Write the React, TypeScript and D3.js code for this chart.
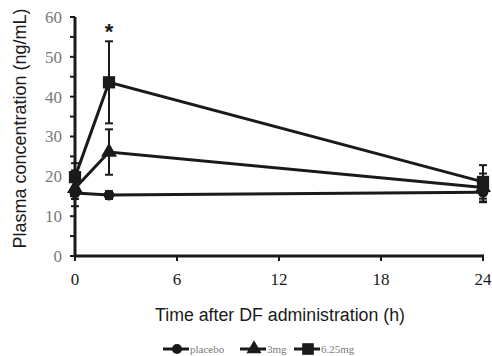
import React from 'react';
import { scaleLinear, line, symbol, symbolCircle, symbolTriangle, symbolSquare } from 'd3';

const times = [0, 2, 24];
const placebo = [15.8, 15.3, 16.0];
const placeboErr = [1.5, 1.0, 2.5];
const mg3 = [17.0, 26.1, 17.2];
const mg3Err = [4.5, 5.7, 3.5];
const mg625 = [19.8, 43.6, 18.6];
const mg625Err = [3.5, 10.3, 4.2];
const seriesNames = ['placebo', '3mg', '6.25mg'];
const xTicks = [0, 6, 12, 18, 24];
const yTicks = [0, 10, 20, 30, 40, 50, 60];
const yMinor = [5, 15, 25, 35, 45, 55];

const width = 492;
const height = 356;
const margin = { left: 75, right: 9, top: 17, bottom: 100 };
const ink = '#1a1a1a';
const grey = '#7a7a7a';

const x = scaleLinear().domain([0, 24]).range([margin.left, width - margin.right]);
const y = scaleLinear().domain([0, 60]).range([height - margin.bottom, margin.top]);

const series = [
  { name: seriesNames[0], values: placebo, err: placeboErr, shape: symbolCircle, size: 90 },
  { name: seriesNames[1], values: mg3, err: mg3Err, shape: symbolTriangle, size: 110 },
  { name: seriesNames[2], values: mg625, err: mg625Err, shape: symbolSquare, size: 150 },
];

const App = () => {
  const path = line<number>().x((d, i) => x(times[i])).y(d => y(d));
  // legend item starts (line start)
  const legendX = [163, 240, 294];

  return (
    <svg width={width} height={height}
      style={{ position: 'absolute', left: 0, top: 0, background: '#fff' }}>
      {/* y axis */}
      <line x1={x(0)} x2={x(0)} y1={y(0) + 1} y2={y(60)} stroke={ink} strokeWidth={3} />
      {yTicks.map(t => (
        <g key={'y' + t}>
          <line x1={x(0) - 5} x2={x(0)} y1={y(t)} y2={y(t)} stroke={ink} strokeWidth={2} />
          <text x={x(0) - 13} y={y(t)} dy="0.35em" textAnchor="end"
            style={{ font: '17px "Liberation Serif", serif', fill: grey }}>{t}</text>
        </g>
      ))}
      {yMinor.map(t => (
        <line key={'m' + t} x1={x(0) - 5} x2={x(0)} y1={y(t)} y2={y(t)} stroke={ink} strokeWidth={2} />
      ))}
      {/* x axis */}
      <line x1={x(0) - 1} x2={x(24) + 1} y1={y(0)} y2={y(0)} stroke={ink} strokeWidth={3} />
      {xTicks.map(t => (
        <g key={'x' + t}>
          <line x1={x(t)} x2={x(t)} y1={y(0)} y2={y(0) + 5} stroke={ink} strokeWidth={2} />
          <text x={x(t)} y={y(0) + 23} dy="0.35em" textAnchor="middle"
            style={{ font: '17px "Liberation Serif", serif', fill: ink }}>{t}</text>
        </g>
      ))}
      <text transform={`translate(20,${(y(0) + y(60)) / 2 - 8}) rotate(-90)`} textAnchor="middle" dy="0.35em"
        textLength={240} lengthAdjust="spacingAndGlyphs"
        style={{ font: '18px "Liberation Sans", Arial, sans-serif', fill: ink }}>Plasma concentration (ng/mL)</text>
      <text x={280} y={315} textAnchor="middle" dy="0.35em"
        textLength={250} lengthAdjust="spacingAndGlyphs"
        style={{ font: '18px "Liberation Sans", Arial, sans-serif', fill: ink }}>Time after DF administration (h)</text>

      {/* series */}
      {series.map(s => (
        <g key={s.name}>
          {s.values.map((v, i) => (
            <g key={i} stroke={ink} strokeWidth={2}>
              <line x1={x(times[i])} x2={x(times[i])} y1={y(v - s.err[i])} y2={y(v + s.err[i])} />
              <line x1={x(times[i]) - 4} x2={x(times[i]) + 4} y1={y(v + s.err[i])} y2={y(v + s.err[i])} />
              <line x1={x(times[i]) - 4} x2={x(times[i]) + 4} y1={y(v - s.err[i])} y2={y(v - s.err[i])} />
            </g>
          ))}
          <path d={path(s.values) || ''} fill="none" stroke={ink} strokeWidth={3} />
          {s.values.map((v, i) => (
            <path key={'p' + i} transform={`translate(${x(times[i])},${y(v)})`}
              d={symbol(s.shape, s.size)() || ''} fill={ink} />
          ))}
        </g>
      ))}
      <text x={x(2)} y={y(56.5)} textAnchor="middle" dy="0.35em"
        style={{ font: 'bold 22px "Liberation Sans", Arial, sans-serif', fill: ink }}>*</text>

      {/* legend */}
      {series.map((s, i) => (
        <g key={'l' + s.name} transform={`translate(${legendX[i]},349)`}>
          <line x1={0} x2={26} y1={0} y2={0} stroke={ink} strokeWidth={3} />
          <path transform="translate(14,0)" d={symbol(s.shape, s.size * 0.9)() || ''} fill={ink} />
          <text x={27} y={0} dy="0.35em"
            style={{ font: '11px "Liberation Serif", serif', fill: grey }}>{s.name}</text>
        </g>
      ))}
    </svg>
  );
};

export default App;
